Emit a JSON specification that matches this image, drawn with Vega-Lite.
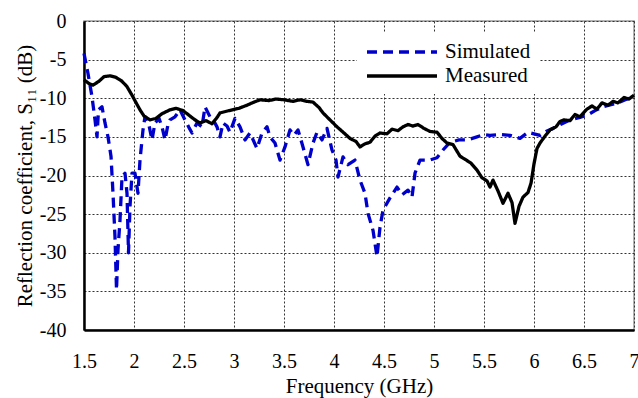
{
  "$schema": "https://vega.github.io/schema/vega-lite/v6.json",
  "autosize": {"type": "none"},
  "width": 550,
  "height": 309,
  "padding": {"left": 84, "top": 21, "right": 4, "bottom": 68},
  "config": {
    "font": "Liberation Serif",
    "view": {"stroke": "#9a9a9a", "strokeWidth": 1.5},
    "axis": {
      "labelFont": "Liberation Serif",
      "titleFont": "Liberation Serif",
      "labelFontSize": 20,
      "titleFontSize": 21,
      "labelColor": "#000",
      "titleColor": "#000",
      "titleFontWeight": "normal",
      "ticks": false,
      "domainColor": "#000",
      "domainWidth": 2.5,
      "gridColor": "#333",
      "gridDash": [2, 2],
      "gridWidth": 1,
      "gridOpacity": 1
    }
  },
  "datasets": {
    "curves": [
      {"f": 1.50, "s11": -4.2, "series": "Simulated"},
      {"f": 1.54, "s11": -6.8, "series": "Simulated"},
      {"f": 1.58, "s11": -9.8, "series": "Simulated"},
      {"f": 1.61, "s11": -12.8, "series": "Simulated"},
      {"f": 1.63, "s11": -15.0, "series": "Simulated"},
      {"f": 1.645, "s11": -11.5, "series": "Simulated"},
      {"f": 1.68, "s11": -11.1, "series": "Simulated"},
      {"f": 1.71, "s11": -13.2, "series": "Simulated"},
      {"f": 1.74, "s11": -15.0, "series": "Simulated"},
      {"f": 1.77, "s11": -17.5, "series": "Simulated"},
      {"f": 1.79, "s11": -22.3, "series": "Simulated"},
      {"f": 1.81, "s11": -28.0, "series": "Simulated"},
      {"f": 1.825, "s11": -34.8, "series": "Simulated"},
      {"f": 1.84, "s11": -29.6, "series": "Simulated"},
      {"f": 1.86, "s11": -25.8, "series": "Simulated"},
      {"f": 1.88, "s11": -20.2, "series": "Simulated"},
      {"f": 1.91, "s11": -19.7, "series": "Simulated"},
      {"f": 1.93, "s11": -22.3, "series": "Simulated"},
      {"f": 1.945, "s11": -30.0, "series": "Simulated"},
      {"f": 1.96, "s11": -24.0, "series": "Simulated"},
      {"f": 1.98, "s11": -19.7, "series": "Simulated"},
      {"f": 2.01, "s11": -19.7, "series": "Simulated"},
      {"f": 2.04, "s11": -22.3, "series": "Simulated"},
      {"f": 2.06, "s11": -18.0, "series": "Simulated"},
      {"f": 2.09, "s11": -14.1, "series": "Simulated"},
      {"f": 2.11, "s11": -12.4, "series": "Simulated"},
      {"f": 2.15, "s11": -13.5, "series": "Simulated"},
      {"f": 2.18, "s11": -15.4, "series": "Simulated"},
      {"f": 2.21, "s11": -13.2, "series": "Simulated"},
      {"f": 2.25, "s11": -12.6, "series": "Simulated"},
      {"f": 2.28, "s11": -13.7, "series": "Simulated"},
      {"f": 2.31, "s11": -15.4, "series": "Simulated"},
      {"f": 2.34, "s11": -13.4, "series": "Simulated"},
      {"f": 2.36, "s11": -12.8, "series": "Simulated"},
      {"f": 2.41, "s11": -12.4, "series": "Simulated"},
      {"f": 2.46, "s11": -11.5, "series": "Simulated"},
      {"f": 2.51, "s11": -12.8, "series": "Simulated"},
      {"f": 2.55, "s11": -13.8, "series": "Simulated"},
      {"f": 2.58, "s11": -14.5, "series": "Simulated"},
      {"f": 2.63, "s11": -13.2, "series": "Simulated"},
      {"f": 2.68, "s11": -13.7, "series": "Simulated"},
      {"f": 2.71, "s11": -11.1, "series": "Simulated"},
      {"f": 2.76, "s11": -12.4, "series": "Simulated"},
      {"f": 2.80, "s11": -13.0, "series": "Simulated"},
      {"f": 2.83, "s11": -13.7, "series": "Simulated"},
      {"f": 2.86, "s11": -15.0, "series": "Simulated"},
      {"f": 2.89, "s11": -13.2, "series": "Simulated"},
      {"f": 2.93, "s11": -13.6, "series": "Simulated"},
      {"f": 2.96, "s11": -14.4, "series": "Simulated"},
      {"f": 3.01, "s11": -12.6, "series": "Simulated"},
      {"f": 3.06, "s11": -13.7, "series": "Simulated"},
      {"f": 3.11, "s11": -15.4, "series": "Simulated"},
      {"f": 3.16, "s11": -14.5, "series": "Simulated"},
      {"f": 3.23, "s11": -16.5, "series": "Simulated"},
      {"f": 3.28, "s11": -14.5, "series": "Simulated"},
      {"f": 3.33, "s11": -13.7, "series": "Simulated"},
      {"f": 3.36, "s11": -15.0, "series": "Simulated"},
      {"f": 3.41, "s11": -15.8, "series": "Simulated"},
      {"f": 3.46, "s11": -18.0, "series": "Simulated"},
      {"f": 3.51, "s11": -16.3, "series": "Simulated"},
      {"f": 3.56, "s11": -14.1, "series": "Simulated"},
      {"f": 3.60, "s11": -14.8, "series": "Simulated"},
      {"f": 3.64, "s11": -14.1, "series": "Simulated"},
      {"f": 3.69, "s11": -16.3, "series": "Simulated"},
      {"f": 3.74, "s11": -18.6, "series": "Simulated"},
      {"f": 3.79, "s11": -15.8, "series": "Simulated"},
      {"f": 3.83, "s11": -14.4, "series": "Simulated"},
      {"f": 3.88, "s11": -15.4, "series": "Simulated"},
      {"f": 3.93, "s11": -13.9, "series": "Simulated"},
      {"f": 3.98, "s11": -16.7, "series": "Simulated"},
      {"f": 4.02, "s11": -18.0, "series": "Simulated"},
      {"f": 4.04, "s11": -20.2, "series": "Simulated"},
      {"f": 4.09, "s11": -17.6, "series": "Simulated"},
      {"f": 4.14, "s11": -18.6, "series": "Simulated"},
      {"f": 4.21, "s11": -18.0, "series": "Simulated"},
      {"f": 4.26, "s11": -20.6, "series": "Simulated"},
      {"f": 4.31, "s11": -22.3, "series": "Simulated"},
      {"f": 4.34, "s11": -24.9, "series": "Simulated"},
      {"f": 4.39, "s11": -27.1, "series": "Simulated"},
      {"f": 4.43, "s11": -30.5, "series": "Simulated"},
      {"f": 4.46, "s11": -26.7, "series": "Simulated"},
      {"f": 4.49, "s11": -24.5, "series": "Simulated"},
      {"f": 4.56, "s11": -22.9, "series": "Simulated"},
      {"f": 4.63, "s11": -21.5, "series": "Simulated"},
      {"f": 4.68, "s11": -22.5, "series": "Simulated"},
      {"f": 4.74, "s11": -21.9, "series": "Simulated"},
      {"f": 4.78, "s11": -22.8, "series": "Simulated"},
      {"f": 4.81, "s11": -19.7, "series": "Simulated"},
      {"f": 4.86, "s11": -18.0, "series": "Simulated"},
      {"f": 4.96, "s11": -18.0, "series": "Simulated"},
      {"f": 5.03, "s11": -17.7, "series": "Simulated"},
      {"f": 5.09, "s11": -16.7, "series": "Simulated"},
      {"f": 5.16, "s11": -15.7, "series": "Simulated"},
      {"f": 5.25, "s11": -15.4, "series": "Simulated"},
      {"f": 5.33, "s11": -15.4, "series": "Simulated"},
      {"f": 5.43, "s11": -15.0, "series": "Simulated"},
      {"f": 5.50, "s11": -14.7, "series": "Simulated"},
      {"f": 5.56, "s11": -14.8, "series": "Simulated"},
      {"f": 5.66, "s11": -14.7, "series": "Simulated"},
      {"f": 5.76, "s11": -14.8, "series": "Simulated"},
      {"f": 5.86, "s11": -15.2, "series": "Simulated"},
      {"f": 5.94, "s11": -14.4, "series": "Simulated"},
      {"f": 6.00, "s11": -14.6, "series": "Simulated"},
      {"f": 6.06, "s11": -14.8, "series": "Simulated"},
      {"f": 6.12, "s11": -14.3, "series": "Simulated"},
      {"f": 6.19, "s11": -13.9, "series": "Simulated"},
      {"f": 6.28, "s11": -13.3, "series": "Simulated"},
      {"f": 6.36, "s11": -12.8, "series": "Simulated"},
      {"f": 6.45, "s11": -12.5, "series": "Simulated"},
      {"f": 6.53, "s11": -12.2, "series": "Simulated"},
      {"f": 6.61, "s11": -11.6, "series": "Simulated"},
      {"f": 6.69, "s11": -11.1, "series": "Simulated"},
      {"f": 6.78, "s11": -10.8, "series": "Simulated"},
      {"f": 6.86, "s11": -10.5, "series": "Simulated"},
      {"f": 6.93, "s11": -10.1, "series": "Simulated"},
      {"f": 7.00, "s11": -9.8, "series": "Simulated"},
      {"f": 1.50, "s11": -7.6, "series": "Measured"},
      {"f": 1.55, "s11": -8.1, "series": "Measured"},
      {"f": 1.59, "s11": -8.3, "series": "Measured"},
      {"f": 1.65, "s11": -7.8, "series": "Measured"},
      {"f": 1.70, "s11": -7.2, "series": "Measured"},
      {"f": 1.76, "s11": -7.1, "series": "Measured"},
      {"f": 1.82, "s11": -7.3, "series": "Measured"},
      {"f": 1.88, "s11": -7.8, "series": "Measured"},
      {"f": 1.93, "s11": -8.5, "series": "Measured"},
      {"f": 1.98, "s11": -9.6, "series": "Measured"},
      {"f": 2.03, "s11": -10.8, "series": "Measured"},
      {"f": 2.06, "s11": -11.5, "series": "Measured"},
      {"f": 2.10, "s11": -12.3, "series": "Measured"},
      {"f": 2.16, "s11": -12.8, "series": "Measured"},
      {"f": 2.22, "s11": -12.6, "series": "Measured"},
      {"f": 2.28, "s11": -12.0, "series": "Measured"},
      {"f": 2.36, "s11": -11.5, "series": "Measured"},
      {"f": 2.42, "s11": -11.3, "series": "Measured"},
      {"f": 2.49, "s11": -11.6, "series": "Measured"},
      {"f": 2.55, "s11": -12.2, "series": "Measured"},
      {"f": 2.61, "s11": -12.8, "series": "Measured"},
      {"f": 2.66, "s11": -13.2, "series": "Measured"},
      {"f": 2.72, "s11": -12.9, "series": "Measured"},
      {"f": 2.78, "s11": -13.3, "series": "Measured"},
      {"f": 2.83, "s11": -12.5, "series": "Measured"},
      {"f": 2.86, "s11": -11.9, "series": "Measured"},
      {"f": 2.95, "s11": -11.6, "series": "Measured"},
      {"f": 3.05, "s11": -11.3, "series": "Measured"},
      {"f": 3.13, "s11": -10.9, "series": "Measured"},
      {"f": 3.20, "s11": -10.5, "series": "Measured"},
      {"f": 3.26, "s11": -10.2, "series": "Measured"},
      {"f": 3.35, "s11": -10.3, "series": "Measured"},
      {"f": 3.42, "s11": -10.1, "series": "Measured"},
      {"f": 3.50, "s11": -10.2, "series": "Measured"},
      {"f": 3.59, "s11": -10.4, "series": "Measured"},
      {"f": 3.66, "s11": -10.2, "series": "Measured"},
      {"f": 3.73, "s11": -10.4, "series": "Measured"},
      {"f": 3.79, "s11": -10.5, "series": "Measured"},
      {"f": 3.85, "s11": -11.2, "series": "Measured"},
      {"f": 3.89, "s11": -11.9, "series": "Measured"},
      {"f": 3.96, "s11": -12.8, "series": "Measured"},
      {"f": 4.03, "s11": -13.7, "series": "Measured"},
      {"f": 4.10, "s11": -14.5, "series": "Measured"},
      {"f": 4.16, "s11": -15.2, "series": "Measured"},
      {"f": 4.22, "s11": -15.6, "series": "Measured"},
      {"f": 4.26, "s11": -16.3, "series": "Measured"},
      {"f": 4.31, "s11": -15.9, "series": "Measured"},
      {"f": 4.36, "s11": -15.7, "series": "Measured"},
      {"f": 4.41, "s11": -14.9, "series": "Measured"},
      {"f": 4.46, "s11": -14.5, "series": "Measured"},
      {"f": 4.53, "s11": -14.6, "series": "Measured"},
      {"f": 4.58, "s11": -14.0, "series": "Measured"},
      {"f": 4.64, "s11": -14.2, "series": "Measured"},
      {"f": 4.69, "s11": -13.7, "series": "Measured"},
      {"f": 4.74, "s11": -13.4, "series": "Measured"},
      {"f": 4.79, "s11": -13.6, "series": "Measured"},
      {"f": 4.84, "s11": -13.4, "series": "Measured"},
      {"f": 4.90, "s11": -13.9, "series": "Measured"},
      {"f": 4.96, "s11": -14.3, "series": "Measured"},
      {"f": 5.03, "s11": -14.4, "series": "Measured"},
      {"f": 5.08, "s11": -15.2, "series": "Measured"},
      {"f": 5.13, "s11": -15.8, "series": "Measured"},
      {"f": 5.19, "s11": -16.0, "series": "Measured"},
      {"f": 5.26, "s11": -17.5, "series": "Measured"},
      {"f": 5.31, "s11": -17.9, "series": "Measured"},
      {"f": 5.37, "s11": -18.4, "series": "Measured"},
      {"f": 5.43, "s11": -19.3, "series": "Measured"},
      {"f": 5.48, "s11": -20.3, "series": "Measured"},
      {"f": 5.53, "s11": -20.7, "series": "Measured"},
      {"f": 5.56, "s11": -21.5, "series": "Measured"},
      {"f": 5.59, "s11": -20.6, "series": "Measured"},
      {"f": 5.64, "s11": -22.0, "series": "Measured"},
      {"f": 5.69, "s11": -23.6, "series": "Measured"},
      {"f": 5.74, "s11": -22.3, "series": "Measured"},
      {"f": 5.78, "s11": -23.5, "series": "Measured"},
      {"f": 5.81, "s11": -26.2, "series": "Measured"},
      {"f": 5.85, "s11": -24.0, "series": "Measured"},
      {"f": 5.89, "s11": -22.8, "series": "Measured"},
      {"f": 5.94, "s11": -22.2, "series": "Measured"},
      {"f": 5.97, "s11": -21.0, "series": "Measured"},
      {"f": 6.00, "s11": -18.5, "series": "Measured"},
      {"f": 6.03, "s11": -16.5, "series": "Measured"},
      {"f": 6.06, "s11": -15.8, "series": "Measured"},
      {"f": 6.11, "s11": -14.9, "series": "Measured"},
      {"f": 6.16, "s11": -14.1, "series": "Measured"},
      {"f": 6.22, "s11": -13.7, "series": "Measured"},
      {"f": 6.26, "s11": -13.0, "series": "Measured"},
      {"f": 6.30, "s11": -12.8, "series": "Measured"},
      {"f": 6.36, "s11": -12.9, "series": "Measured"},
      {"f": 6.41, "s11": -12.1, "series": "Measured"},
      {"f": 6.46, "s11": -12.4, "series": "Measured"},
      {"f": 6.53, "s11": -11.4, "series": "Measured"},
      {"f": 6.58, "s11": -11.0, "series": "Measured"},
      {"f": 6.63, "s11": -11.4, "series": "Measured"},
      {"f": 6.68, "s11": -10.6, "series": "Measured"},
      {"f": 6.74, "s11": -10.9, "series": "Measured"},
      {"f": 6.79, "s11": -10.4, "series": "Measured"},
      {"f": 6.84, "s11": -10.6, "series": "Measured"},
      {"f": 6.90, "s11": -9.9, "series": "Measured"},
      {"f": 6.95, "s11": -10.1, "series": "Measured"},
      {"f": 7.00, "s11": -9.6, "series": "Measured"}
    ]
  },
  "layer": [
    {
      "data": {"name": "curves"},
      "mark": {"type": "line", "strokeWidth": 3.3, "strokeJoin": "round"},
      "encoding": {
        "x": {
          "field": "f",
          "type": "quantitative",
          "scale": {"domain": [1.5, 7], "nice": false, "zero": false},
          "axis": {
            "title": "Frequency (GHz)",
            "values": [1.5, 2, 2.5, 3, 3.5, 4, 4.5, 5, 5.5, 6, 6.5, 7],
            "labelExpr": "toString(datum.value)",
            "labelPadding": 21,
            "titlePadding": 4,
            "labelFlush": false,
            "grid": true
          }
        },
        "y": {
          "field": "s11",
          "type": "quantitative",
          "scale": {"domain": [-40, 0], "nice": false},
          "axis": {
            "title": "Reflection coefficient, S₁₁ (dB)",
            "values": [0, -5, -10, -15, -20, -25, -30, -35, -40],
            "labelExpr": "toString(datum.value)",
            "labelPadding": 18,
            "titlePadding": 4,
            "grid": true
          }
        },
        "color": {
          "field": "series",
          "type": "nominal",
          "sort": ["Simulated", "Measured"],
          "scale": {"domain": ["Simulated", "Measured"], "range": ["#0000CC", "#000000"]},
          "legend": {
            "title": null,
            "orient": "none",
            "legendX": 273,
            "legendY": 11,
            "padding": 8,
            "fillColor": "#ffffff",
            "symbolType": "M-1,0H6",
            "symbolSize": 400,
            "symbolStrokeWidth": 3.5,
            "symbolFillColor": "transparent",
            "labelFont": "Liberation Serif",
            "labelFontSize": 21,
            "labelColor": "#000",
            "labelOffset": 56,
            "rowPadding": 2
          }
        },
        "strokeDash": {
          "field": "series",
          "type": "nominal",
          "sort": ["Simulated", "Measured"],
          "scale": {"domain": ["Simulated", "Measured"], "range": [[10, 6], [1, 0]]}
        }
      }
    },
    {
      "mark": {"type": "rule", "color": "#000", "strokeWidth": 2.5},
      "encoding": {"x": {"datum": 7}}
    }
  ]
}
